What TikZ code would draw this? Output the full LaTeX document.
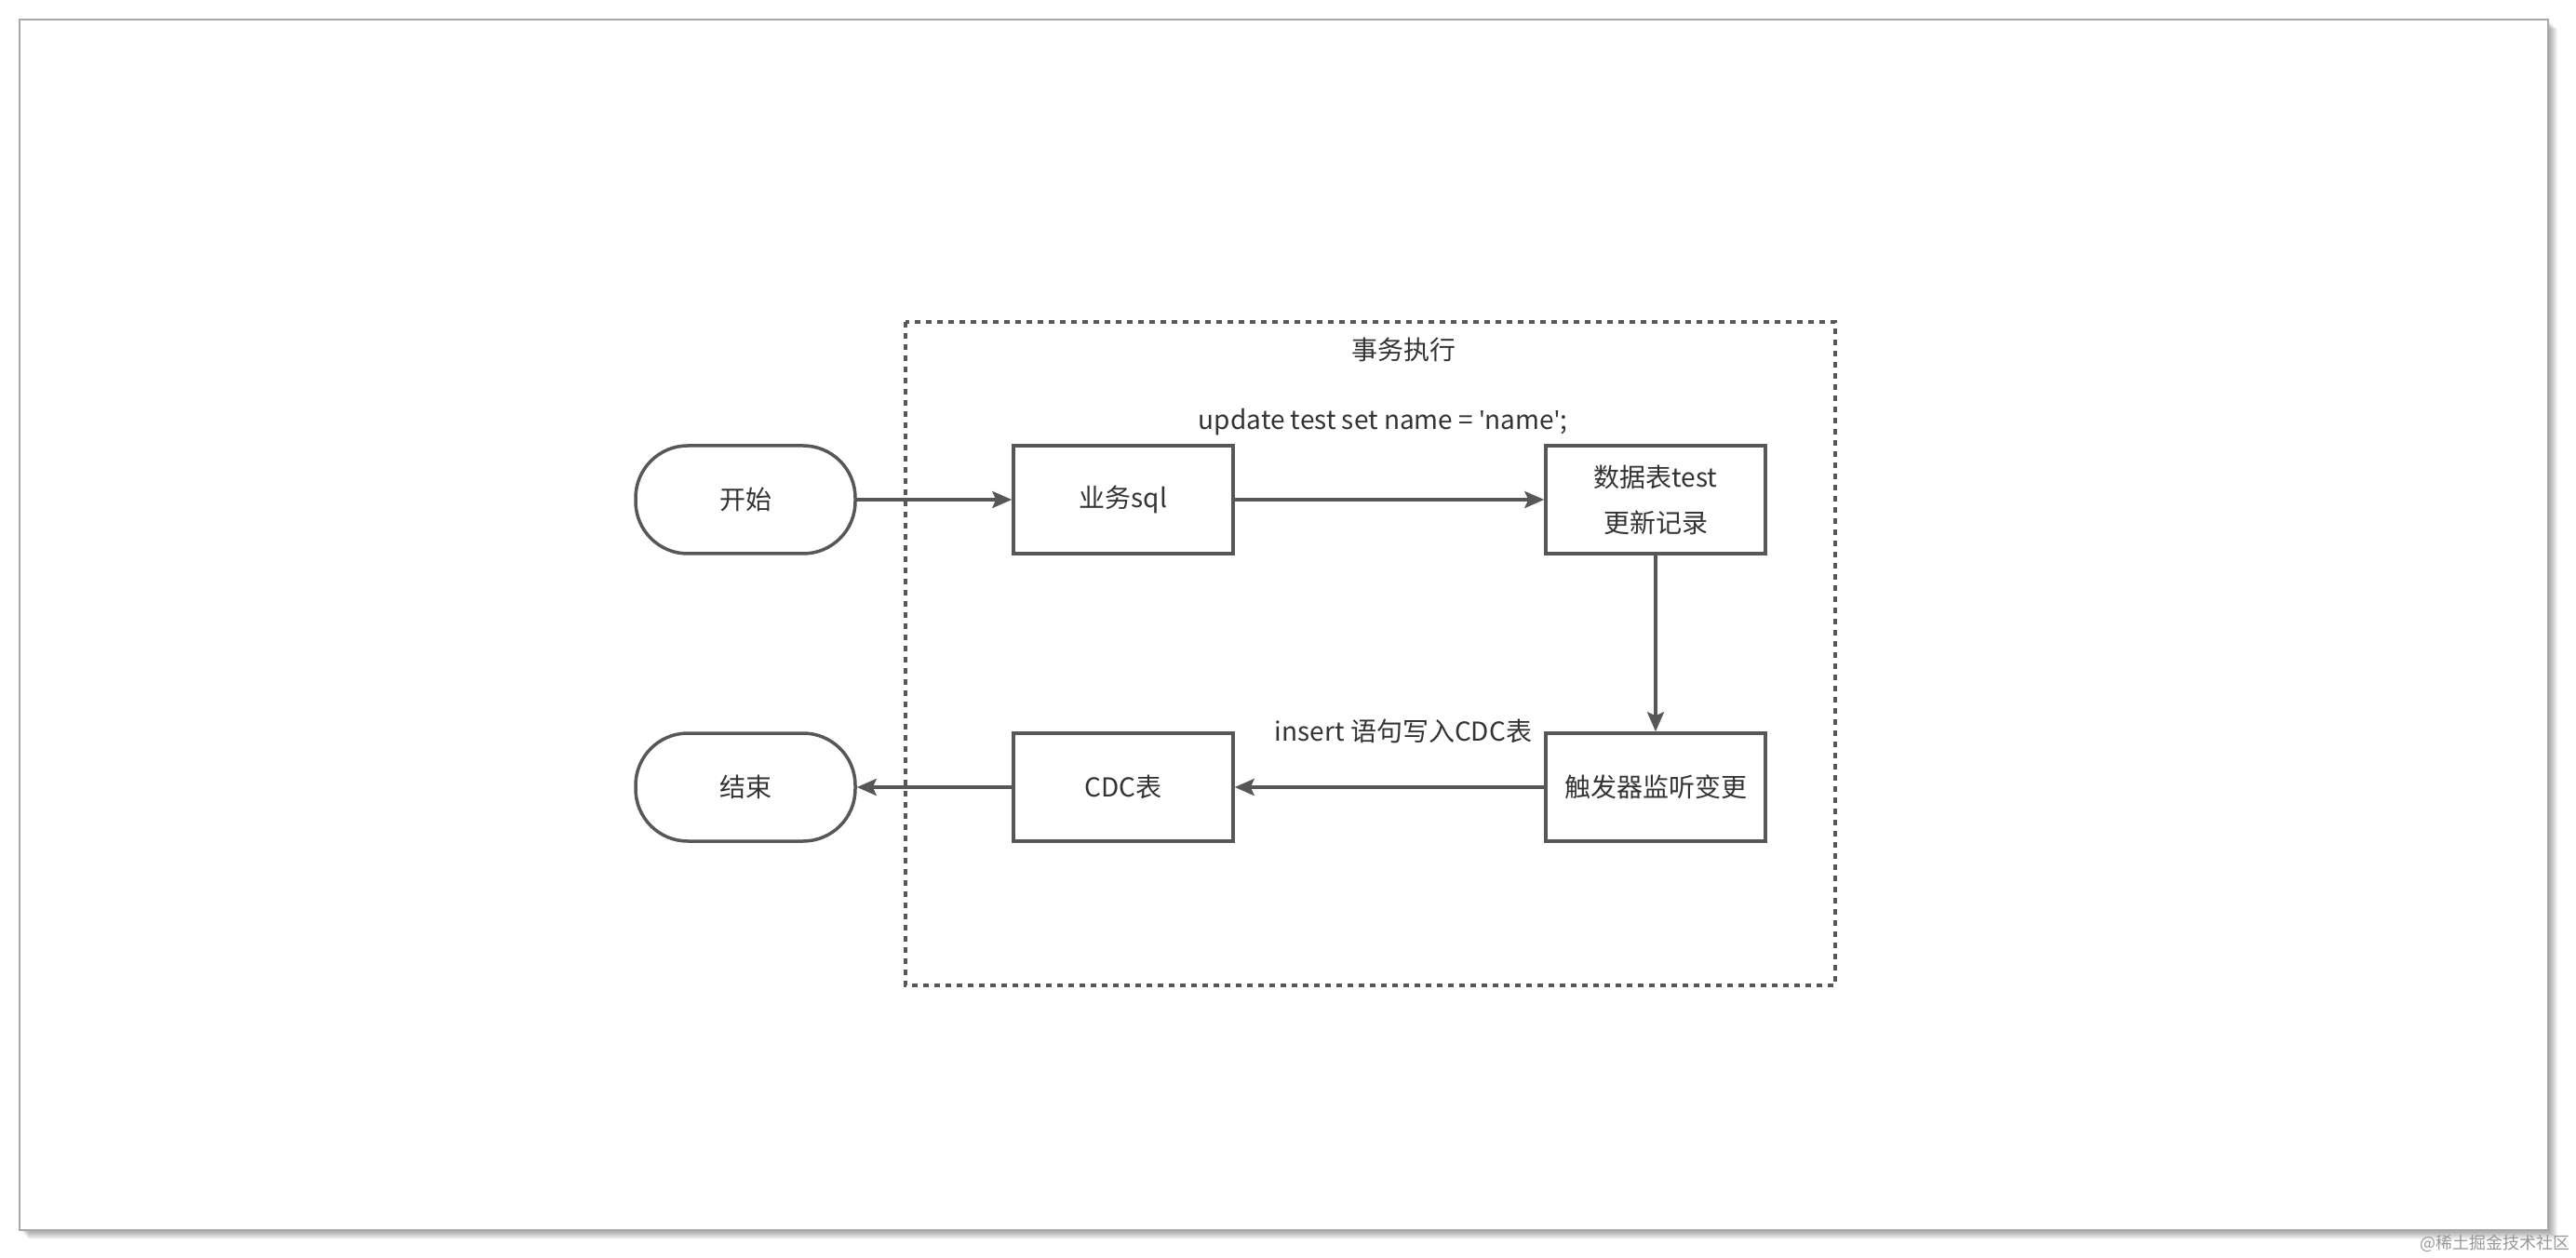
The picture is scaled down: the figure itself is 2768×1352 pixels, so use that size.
\documentclass[tikz,border=0pt]{standalone}
\usepackage{fontspec}
\setmainfont{Noto Sans CJK SC}
\newfontfamily\latfont{Noto Sans}
\usetikzlibrary{arrows.meta}
\definecolor{ln}{HTML}{575757}
\definecolor{txt}{HTML}{333333}
\definecolor{frm}{HTML}{A8A8A8}
\newcommand\myfs{\fontsize{14pt}{24.5pt}\selectfont}
\newcommand\sq{{\latfont\char"27\relax}}
\tikzset{
  box/.style={draw=ln, line width=1.75pt, fill=white, minimum width=118pt, minimum height=58pt, inner sep=0pt, text=txt, font=\myfs, align=center},
  term/.style={box, rounded corners=28pt},
  arr/.style={draw=ln, line width=1.75pt, -{Stealth[length=10.5pt,width=9pt,inset=2pt]}},
  lbl/.style={text=txt, font=\myfs, inner sep=0pt}
}
\begin{document}
\begin{tikzpicture}[x=0.5pt,y=-0.5pt]
\useasboundingbox (0,0) rectangle (2768,1352);
\fill[white] (0,0) rectangle (2768,1352);
% shadow of the frame
\foreach \i in {1,...,10} {
  \fill[black,opacity=0.04] (21+\i,21+\i) rectangle (2738+\i,1322+\i);
}
\fill[white] (21,21) rectangle (2738,1322);
\draw[frm, line width=0.8pt] (21,21) rectangle (2738,1322);
% container
\draw[ln, line width=1.6pt, dash pattern=on 3pt off 3pt] (973,346) rectangle (1972,1059);
\node[lbl] (title) at (1508,376) {事务执行};
% nodes
\node[term] (start) at (801,537) {开始};
\node[box]  (sql)   at (1207,537) {业务sql};
\node[box]  (tbl)   at (1779,537) {数据表test\\更新记录};
\node[box]  (trig)  at (1779,846) {触发器监听变更};
\node[box]  (cdc)   at (1207,846) {CDC表};
\node[term] (end)   at (801,846) {结束};
% connectors
\draw[arr] (start.east) -- (sql.west);
\draw[arr] (sql.east) -- (tbl.west);
\draw[arr] (tbl.south) -- (trig.north);
\draw[arr] (trig.west) -- (cdc.east);
\draw[arr] (cdc.west) -- (end.east);
% labels
\node[lbl] (upd) at (1486,454) {update test set name = \sq name\sq;};
\node[lbl] (ins) at (1508,786) {insert 语句写入CDC表};
% watermark
\node[text=frm!90!black, font=\fontsize{9pt}{10pt}\selectfont, inner sep=0pt] (wm) at (2681,1336) {@稀土掘金技术社区};
\end{tikzpicture}
\end{document}
